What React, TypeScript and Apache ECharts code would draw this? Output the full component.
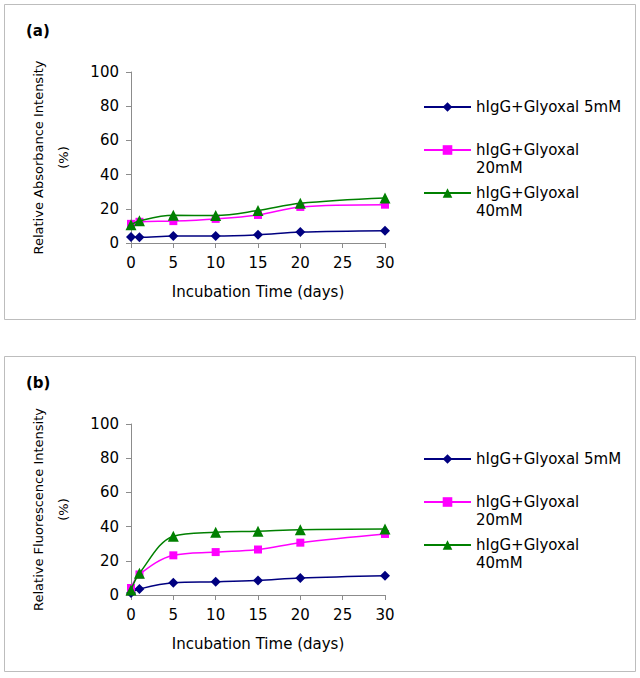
import React, { useEffect, useRef } from "react";
import * as echarts from "echarts";

// ---- data ----
const days = [0, 1, 5, 10, 15, 20, 30];
const seriesNames = ["hIgG+Glyoxal 5mM", "hIgG+Glyoxal 20mM", "hIgG+Glyoxal 40mM"];
const absorbance5 = [3.5, 3.3, 4.1, 4.1, 4.8, 6.4, 7.2];
const absorbance20 = [11.2, 12.4, 12.8, 14.1, 16.4, 21.1, 22.4];
const absorbance40 = [10.6, 13.0, 16.2, 16.1, 19.0, 23.2, 26.3];
const fluorescence5 = [1.2, 3.5, 7.1, 7.7, 8.5, 9.9, 11.2];
const fluorescence20 = [4.1, 12.0, 23.2, 25.1, 26.6, 30.6, 35.7];
const fluorescence40 = [2.9, 12.7, 34.4, 36.7, 37.3, 38.2, 38.6];
const panelLabels = ["(a)", "(b)"];
const yAxisNames = ["Relative Absorbance Intensity\n(%)", "Relative Fluorescence Intensity\n(%)"];
const xAxisName = "Incubation Time (days)";

const FONT = "DejaVu Sans";
const colors = ["#000080", "#FF00FF", "#008000"];
const symbols = ["diamond", "rect", "triangle"];
const symbolSizes = [10, 8, 11];

const pairs = (vals: number[]) => days.map((d, i) => [d, vals[i]]);

export default function App() {
  const ref = useRef<HTMLDivElement>(null);
  useEffect(() => {
    document.body.style.margin = "0";
    const chart = echarts.init(ref.current!, null, { renderer: "svg" });
    const panelData = [
      [absorbance5, absorbance20, absorbance40],
      [fluorescence5, fluorescence20, fluorescence40],
    ];
    const gridTops = [72, 424];
    const panelTops = [4, 356];
    const legendCenters = [103, 146, 189];

    const grids = gridTops.map((t) => ({ left: 131, width: 254, top: t, height: 171 }));
    const axisLineStyle = { color: "#8c8c8c", width: 1 };
    const xAxes = grids.map((_, gi) => ({
      type: "value",
      gridIndex: gi,
      min: 0,
      max: 30,
      interval: 5,
      name: xAxisName,
      nameLocation: "middle",
      nameGap: 41,
      nameTextStyle: { fontFamily: FONT, fontSize: 15, color: "#000" },
      axisLine: { show: true, lineStyle: axisLineStyle },
      axisTick: { show: true, length: 5, lineStyle: axisLineStyle },
      splitLine: { show: false },
      axisLabel: { fontFamily: FONT, fontSize: 15, color: "#000", margin: 12 },
    }));
    const yAxes = grids.map((_, gi) => ({
      type: "value",
      gridIndex: gi,
      min: 0,
      max: 100,
      interval: 20,
      name: yAxisNames[gi],
      nameLocation: "middle",
      nameGap: 55,
      nameTextStyle: { fontFamily: FONT, fontSize: 13, color: "#000", lineHeight: 25 },
      axisLine: { show: true, lineStyle: axisLineStyle },
      axisTick: { show: true, length: 5, lineStyle: axisLineStyle },
      splitLine: { show: false },
      axisLabel: { fontFamily: FONT, fontSize: 15, color: "#000", margin: 12 },
    }));
    const series: any[] = [];
    panelData.forEach((set, gi) => {
      set.forEach((vals, si) => {
        series.push({
          type: "line",
          name: seriesNames[si],
          xAxisIndex: gi,
          yAxisIndex: gi,
          data: pairs(vals),
          smooth: 0.35,
          symbol: symbols[si],
          symbolSize: symbolSizes[si],
          itemStyle: { color: colors[si] },
          lineStyle: { color: colors[si], width: 1.5 },
          z: 2 + si,
        });
      });
    });
    const legends: any[] = [];
    panelTops.forEach((pt) => {
      seriesNames.forEach((nm, si) => {
        const multi = si > 0;
        legends.push({
          data: [nm],
          left: 423,
          top: pt + legendCenters[si] - (multi ? 27 : 9),
          padding: 0,
          itemWidth: 47,
          itemHeight: 12,
          itemGap: 0,
          selectedMode: false,
          formatter: (n: string) => (multi ? " \n" + n.replace(" ", "\n") : n),
          textStyle: {
            fontFamily: FONT,
            fontSize: 15,
            color: "#000",
            lineHeight: 18,
          },
        });
      });
    });
    const titles = panelTops.map((pt, i) => ({
      text: panelLabels[i],
      left: 26,
      top: pt + 19,
      padding: 0,
      textStyle: { fontFamily: FONT, fontSize: 15, fontWeight: "bold", color: "#000" },
    }));
    const borders = panelTops.map((pt) => ({
      type: "rect",
      shape: { x: 4.5, y: pt + 0.5, width: 631, height: 315 },
      style: { fill: "none", stroke: "#bdbdbd", lineWidth: 1 },
      silent: true,
      z: -1,
    }));

    chart.setOption({
      animation: false,
      backgroundColor: "#ffffff",
      title: titles,
      grid: grids,
      xAxis: xAxes,
      yAxis: yAxes,
      legend: legends,
      series,
      graphic: borders,
    });
    return () => chart.dispose();
  }, []);
  return (
    <div
      ref={ref}
      style={{ width: 640, height: 678, position: "fixed", left: 0, top: 0, background: "#fff" }}
    />
  );
}
